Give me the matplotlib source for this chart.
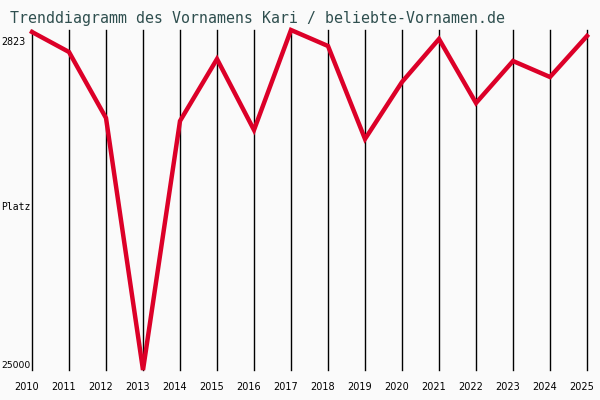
import matplotlib
matplotlib.use("Agg")
import matplotlib.pyplot as plt

# Jahre und Platzierungen
jahre = list(range(2010, 2026))
platz = [2953, 4258, 8563, 25000, 8759, 4715, 9346, 2823,
         3867, 9933, 6214, 3410, 7585, 4845, 5889, 3214]
y_oben = 2823
y_unten = 25000
titel = "Trenddiagramm des Vornamens Kari / beliebte-Vornamen.de"

bg = "#fafafa"
rot = "#dc0028"

fig = plt.figure(figsize=(6, 4), dpi=100, facecolor=bg)
ax = fig.add_axes([32 / 600, 30 / 400, 555 / 600, 340 / 400], facecolor=bg)

for j in jahre:
    ax.axvline(j, color="black", lw=1.0, zorder=1, clip_on=False)

ax.plot(jahre, platz, color=rot, lw=3.2, zorder=3, clip_on=False,
        solid_joinstyle="miter")

ax.set_xlim(jahre[0], jahre[-1])
ax.set_ylim(y_unten, y_oben)
for s in ax.spines.values():
    s.set_visible(False)
ax.set_xticks([])
ax.set_yticks([])

mono = "DejaVu Sans Mono"
fig.text(10 / 600, 1 - 18 / 400, titel, family=mono, fontsize=10.7,
         color="#2f4f4f", va="center", ha="left")

for j in jahre:
    x = 32 + (j - jahre[0]) * 37 - 5.5
    fig.text(x / 600, 1 - 387 / 400, str(j), family="DejaVu Sans",
             fontsize=7, ha="center", va="center", color="black")

fig.text(25.5 / 600, 1 - 42 / 400, str(y_oben), family="DejaVu Sans",
         fontsize=6.9, ha="right", va="center")
fig.text(30.5 / 600, 1 - 366 / 400, str(y_unten), family="DejaVu Sans",
         fontsize=6.7, ha="right", va="center")
fig.text(1 / 600, 1 - 207 / 400, "Platz", family=mono,
         fontsize=7, ha="left", va="center")

fig.savefig("out.png", dpi=100, facecolor=bg)
